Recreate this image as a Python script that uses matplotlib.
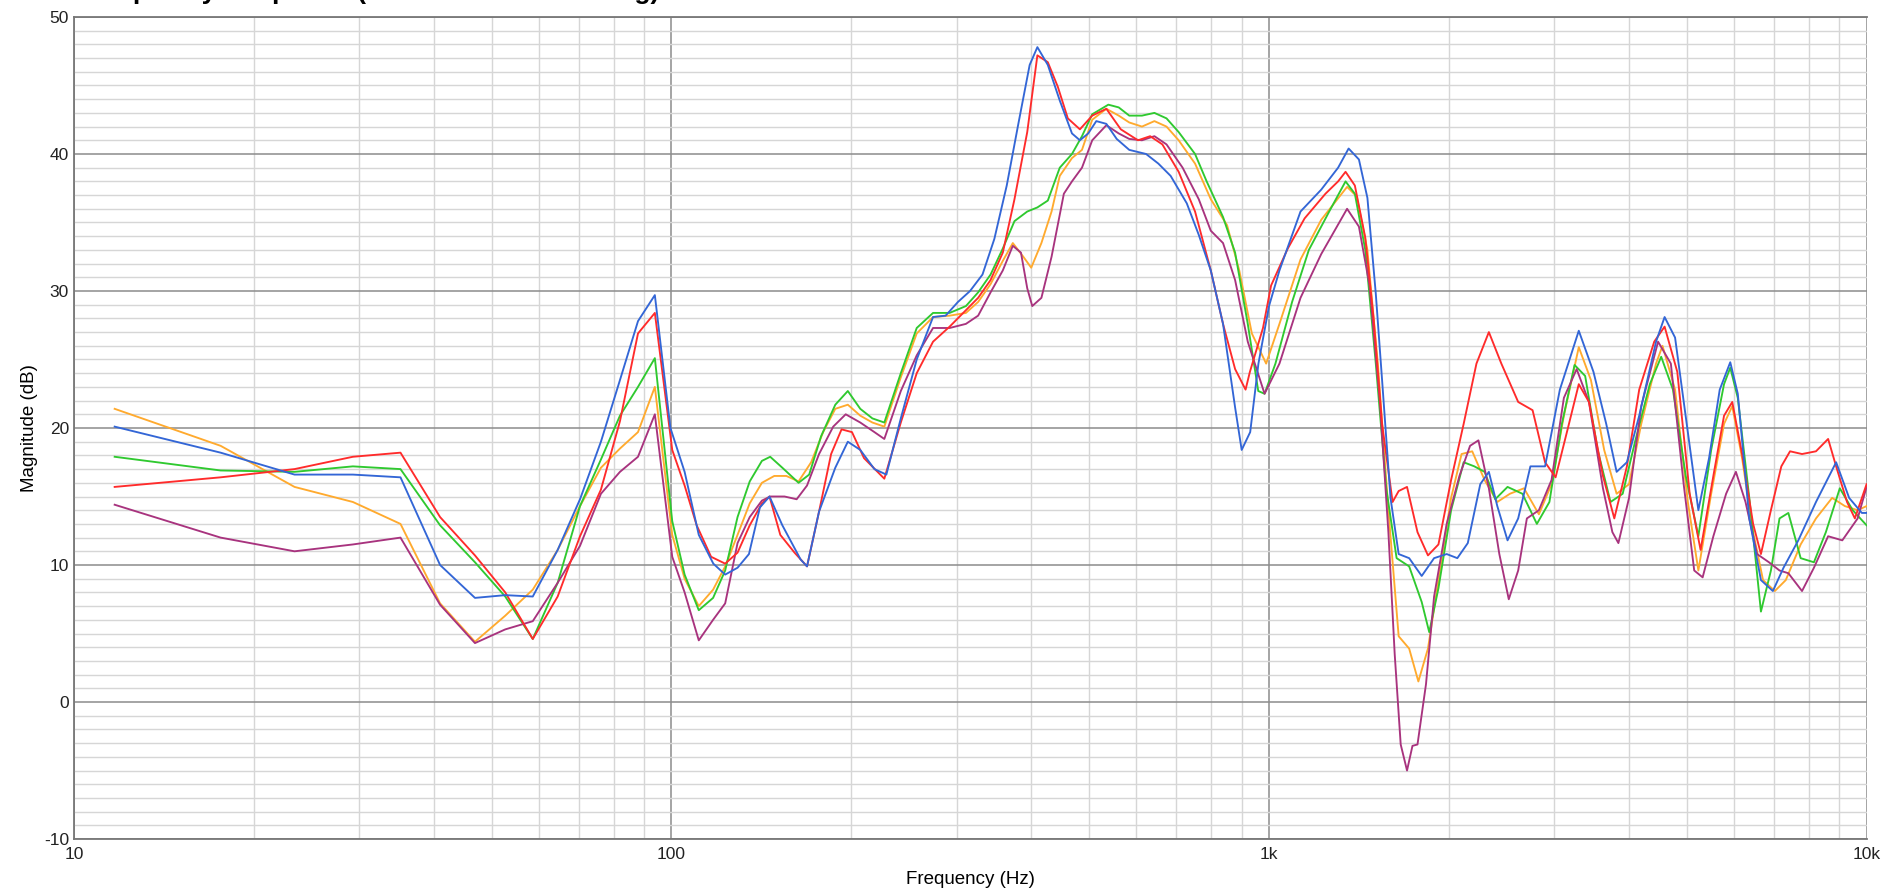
import numpy as np
import matplotlib.pyplot as plt
from matplotlib.ticker import FixedLocator, NullFormatter

plt.rcParams['font.family'] = ['Liberation Sans', 'DejaVu Sans']
plt.rcParams['axes.unicode_minus'] = False

# FFT bins below 100 Hz (48 kHz / 8192 points)
low_freq = [11.7, 17.6, 23.4, 29.3, 35.2, 41.0, 46.9, 52.7, 58.6, 64.5, 70.3, 76.2, 82.0, 87.9, 93.8]

blue_freq = low_freq + [
    99.6, 105.2, 111.1, 117.5, 123.0, 129.0, 134.8, 140.6, 145.9, 153.3, 164.5, 168.6, 176.6, 188.0,
    197.3, 207.0, 218.6, 228.9, 242.0, 257.3, 274.0, 287.6, 301.6, 316.0, 331.5, 347.0, 364.0, 381.0,
    397.6, 409.6, 426.4, 446.5, 468.0, 482.5, 498.2, 514.0, 534.3, 556.0, 583.6, 622.7, 652.8, 684.5,
    728.4, 762.8, 799.0, 837.6, 877.5, 900.0, 930.0, 960.0, 1000, 1041, 1129, 1223, 1305, 1359, 1414,
    1461, 1509, 1546, 1597, 1648, 1716, 1801, 1889, 1983, 2066, 2151, 2257, 2333, 2410, 2507, 2612,
    2738, 2897, 3067, 3299, 3491, 3667, 3817, 3971, 4164, 4443, 4592, 4781, 5022, 5230, 5450, 5679,
    5914, 6088, 6364, 6656, 6969, 7261, 7687, 8229, 8893, 9350, 9818, 10000]
blue_db = [
    20.1, 18.2, 16.6, 16.6, 16.4, 10.0, 7.6, 7.8, 7.7, 11.1, 14.8, 19.0, 23.5, 27.8, 29.7,
    20.0, 16.8, 12.2, 10.1, 9.3, 9.8, 10.8, 14.2, 15.0, 12.9, 10.4, 9.9, 13.9, 17.1,
    19.0, 18.4, 17.0, 16.6, 20.7, 25.0, 28.1, 28.2, 29.2, 30.0, 31.2, 33.8, 37.7, 42.3,
    46.5, 47.8, 46.5, 43.9, 41.5, 41.0, 41.5, 42.4, 42.2, 41.1, 40.3, 40.0, 39.3, 38.4,
    36.4, 34.1, 31.5, 27.6, 21.5, 18.4, 19.7, 24.7, 28.9, 31.5, 35.8, 37.4, 39.0, 40.4, 39.6,
    36.8, 29.8, 23.5, 14.9, 10.8, 10.5, 9.2, 10.5, 10.8, 10.5, 11.6, 15.9, 16.8, 14.3, 11.8, 13.4,
    17.2, 17.2, 22.8, 27.1, 24.1, 20.3, 16.8, 17.5, 20.9, 26.3, 28.1, 26.6, 19.7, 14.0, 17.8, 22.8,
    24.8, 22.5, 13.4, 8.9, 8.1, 9.8, 11.8, 14.6, 17.5, 14.9, 13.8, 13.8]

red_freq = low_freq + [
    100.3, 105.2, 110.2, 116.5, 123.0, 129.0, 135.2, 141.7, 145.9, 152.1, 160.7, 168.6, 176.6, 185.0,
    192.6, 200.5, 210.0, 227.1, 242.0, 257.3, 274.0, 292.1, 311.0, 326.0, 342.0, 358.5, 375.0, 393.9,
    409.6, 426.4, 443.2, 460.6, 482.5, 506.0, 534.3, 564.9, 603.6, 632.6, 663.0, 706.0, 752.0, 799.0,
    837.6, 877.5, 913.6, 929, 977, 1008, 1075, 1147, 1243, 1305, 1343, 1392, 1449, 1497, 1546, 1610,
    1648, 1702, 1772, 1845, 1921, 2017, 2117, 2224, 2333, 2448, 2612, 2761, 2897, 3017, 3164, 3299,
    3431, 3621, 3783, 3971, 4164, 4412, 4592, 4822, 5058, 5275, 5541, 5774, 5960, 6190, 6459, 6656,
    6917, 7200, 7446, 7798, 8229, 8623, 8893, 9275, 9559, 10000]
red_db = [
    15.7, 16.4, 17.0, 17.9, 18.2, 13.5, 10.7, 8.0, 4.6, 7.7, 12.1, 15.5, 20.5, 26.9, 28.4,
    18.4, 15.8, 12.9, 10.6, 10.1, 10.9, 12.9, 14.5, 15.0, 12.2, 10.9, 9.9, 13.9, 18.1,
    19.9, 19.7, 17.8, 16.3, 20.4, 24.0, 26.3, 27.4, 28.6, 29.5, 30.8, 32.8, 36.7, 41.6,
    47.2, 46.7, 44.9, 42.6, 41.8, 42.8, 43.3, 41.8, 41.0, 41.3, 40.7, 38.7, 35.8, 31.5,
    27.6, 24.3, 22.8, 24.1, 27.3, 30.4, 33.1, 35.3, 37.1, 38.0, 38.7, 37.7, 33.9, 27.9, 20.3, 14.6,
    15.4, 15.7, 12.4, 10.7, 11.5, 16.2, 20.3, 24.7, 27.0, 24.7, 21.9, 21.3, 17.5, 16.4, 20.0, 23.2,
    21.9, 16.5, 13.4, 17.2, 22.8, 26.3, 27.4, 24.1, 15.2, 11.1, 16.5, 20.9, 21.9, 18.1, 13.0, 10.8,
    14.0, 17.2, 18.3, 18.1, 18.3, 19.2, 17.2, 14.6, 13.4, 15.9]

green_freq = low_freq + [
    100.3, 105.2, 111.1, 117.4, 123.0, 129.0, 135.2, 141.7, 146.3, 153.3, 163.2, 170.0, 178.0, 188.0,
    197.3, 207.0, 216.9, 227.1, 242.0, 257.3, 274.0, 292.1, 311.0, 326.0, 342.0, 358.5, 375.0, 393.9,
    409.6, 426.4, 446.5, 468.0, 486.4, 506.0, 538.4, 560.4, 583.6, 612.9, 643.0, 673.7, 706.0, 752.0,
    786.4, 837.6, 877.5, 921.4, 959.4, 983, 1025, 1093, 1166, 1261, 1343, 1392, 1449, 1509, 1571,
    1635, 1716, 1801, 1854, 1921, 2017, 2117, 2206, 2295, 2391, 2507, 2655, 2807, 2946, 3091, 3246,
    3381, 3548, 3728, 3907, 4098, 4338, 4532, 4742, 4982, 5230, 5495, 5774, 5914, 6088, 6364, 6656,
    6917, 7150, 7398, 7757, 8164, 8548, 9020, 9480, 10000]
green_db = [
    17.9, 16.9, 16.8, 17.2, 17.0, 12.9, 10.2, 7.7, 4.6, 8.7, 14.3, 17.7, 20.9, 23.0, 25.1,
    13.2, 9.3, 6.7, 7.6, 9.6, 13.5, 16.1, 17.6, 17.9, 17.1, 16.0, 16.6, 19.4, 21.7,
    22.7, 21.4, 20.7, 20.4, 24.0, 27.3, 28.4, 28.4, 28.9, 29.9, 31.2, 33.1, 35.1, 35.8,
    36.1, 36.6, 39.0, 40.0, 41.3, 42.9, 43.6, 43.4, 42.8, 42.8, 43.0, 42.6, 41.6, 40.0,
    38.0, 35.4, 32.8, 27.6, 22.7, 22.5, 24.7, 29.2, 33.0, 35.8, 38.0, 37.1, 33.0, 24.7, 15.6,
    10.5, 9.9, 7.3, 5.1, 8.3, 14.0, 17.5, 17.2, 16.8, 14.8, 15.7, 15.2, 13.0, 14.6, 20.3, 24.6,
    23.8, 18.4, 14.6, 15.2, 19.0, 23.2, 25.2, 22.8, 16.5, 12.1, 18.4, 23.2, 24.4, 22.2, 14.9, 6.6,
    9.6, 13.4, 13.8, 10.5, 10.2, 12.4, 15.6, 14.0, 12.9]

orange_freq = low_freq + [
    100.3, 105.2, 111.1, 117.4, 123.0, 129.0, 135.2, 141.7, 148.6, 155.7, 163.2, 171.3, 179.4, 188.0,
    197.3, 207.0, 216.9, 227.1, 242.0, 257.3, 274.0, 292.1, 311.0, 326.0, 342.0, 358.5, 372.6, 388.0,
    400.0, 416.0, 432.6, 446.5, 468.0, 486.4, 506.0, 534.3, 560.4, 583.6, 612.9, 643.0, 673.7, 706.0,
    752.0, 799.0, 850.8, 891.7, 936, 989, 1041, 1129, 1223, 1351, 1402, 1461, 1521, 1584, 1648,
    1716, 1778, 1845, 1921, 2017, 2100, 2188, 2295, 2410, 2530, 2671, 2829, 2970, 3115, 3299, 3457,
    3638, 3817, 4004, 4197, 4443, 4555, 4781, 5022, 5230, 5495, 5774, 5960, 6190, 6459, 6710, 7022,
    7325, 7757, 8229, 8757, 9198, 9662, 10000]
orange_db = [
    21.4, 18.7, 15.7, 14.6, 13.0, 7.2, 4.4, 6.3, 8.2, 11.1, 14.3, 17.1, 18.5, 19.7, 23.0,
    12.2, 9.0, 7.0, 8.2, 9.9, 12.2, 14.5, 16.0, 16.5, 16.5, 16.1, 17.5, 19.7, 21.4,
    21.7, 20.9, 20.4, 20.1, 23.7, 26.9, 28.1, 28.2, 28.4, 29.2, 30.5, 32.2, 33.5, 32.5,
    31.7, 33.5, 35.8, 38.4, 39.7, 40.3, 42.5, 43.3, 42.8, 42.3, 42.0, 42.4, 42.0, 41.0,
    39.3, 36.7, 34.8, 31.5, 26.9, 24.7, 27.6, 32.3, 35.2, 37.6, 36.9, 33.0, 24.7, 14.0, 4.8,
    3.9, 1.5, 3.9, 8.9, 14.9, 18.1, 18.3, 16.2, 14.6, 15.2, 15.6, 13.7, 15.9, 20.9, 25.9, 23.5,
    18.4, 15.2, 15.9, 20.3, 24.7, 26.0, 22.8, 14.6, 9.6, 15.2, 20.3, 21.6, 17.8, 12.4, 8.9, 8.1,
    8.9, 11.5, 13.4, 14.9, 14.3, 14.0, 14.3]

purple_freq = low_freq + [
    100.3, 105.2, 111.1, 117.4, 123.0, 129.0, 135.2, 141.7, 146.3, 154.6, 162.0, 168.6, 176.6, 186.5,
    195.7, 207.0, 218.6, 227.1, 242.0, 257.3, 274.0, 292.1, 311.0, 326.0, 342.0, 358.5, 372.6, 384.5,
    393.9, 401.6, 416.0, 432.6, 453.6, 468.0, 486.4, 506.0, 534.3, 560.4, 583.6, 612.9, 643.0, 673.7,
    716.8, 762.8, 799.0, 837.6, 877.5, 921.4, 983, 1041, 1129, 1223, 1351, 1414, 1473, 1533, 1584,
    1623, 1661, 1702, 1738, 1772, 1831, 1889, 1983, 2083, 2170, 2241, 2333, 2429, 2519, 2612, 2701,
    2829, 2970, 3115, 3272, 3431, 3621, 3755, 3843, 4004, 4197, 4478, 4704, 4942, 5147, 5317, 5541,
    5820, 6044, 6272, 6558, 6865, 7150, 7398, 7798, 8164, 8623, 9107, 9662, 10000]
purple_db = [
    14.4, 12.0, 11.0, 11.5, 12.0, 7.1, 4.3, 5.3, 5.9, 8.7, 11.4, 15.2, 16.8, 17.9, 21.0,
    10.6, 8.0, 4.5, 6.0, 7.2, 11.6, 13.5, 14.7, 15.0, 15.0, 14.8, 15.8, 18.1, 20.1,
    21.0, 20.4, 19.7, 19.2, 22.7, 25.3, 27.3, 27.3, 27.6, 28.2, 29.9, 31.5, 33.3, 32.8,
    30.2, 28.9, 29.5, 32.5, 37.1, 38.0, 39.0, 41.0, 42.1, 41.5, 41.1, 41.0, 41.3, 40.7,
    39.0, 36.7, 34.4, 33.5, 30.8, 26.3, 22.5, 24.7, 29.5, 32.7, 36.0, 34.7, 30.4, 21.9, 12.4,
    3.5, -3.1, -5.0, -3.2, -3.1, 1.3, 7.7, 13.0, 16.5, 18.7, 19.1, 15.6, 10.8, 7.5, 9.6, 13.4,
    14.0, 16.2, 22.2, 24.3, 21.9, 15.6, 12.4, 11.6, 14.9, 21.6, 26.3, 24.7, 15.9, 9.6, 9.1, 12.1,
    15.2, 16.8, 14.6, 10.8, 10.2, 9.6, 9.4, 8.1, 9.8, 12.1, 11.8, 13.4, 15.7]

series = [
    (orange_freq, orange_db, '#ffaa2e'),
    (green_freq, green_db, '#2fc92f'),
    (purple_freq, purple_db, '#a8337e'),
    (red_freq, red_db, '#ff2b2b'),
    (blue_freq, blue_db, '#3366d6'),
]

fig = plt.figure(figsize=(18.95, 8.94), dpi=100)
ax = fig.add_axes([0.039, 0.0615, 0.946, 0.9195])

for f, db, col in series:
    ax.plot(f, db, color=col, lw=1.35)

ax.set_xscale('log')
ax.set_xlim(10, 10000)
ax.set_ylim(-10, 50)

# grid: majors dark, minors light
ax.set_yticks(np.arange(-10, 51, 10))
ax.yaxis.set_minor_locator(FixedLocator(np.arange(-10, 50, 1)))
ax.set_xticks([10, 100, 1000, 10000])
ax.set_xticklabels(['10', '100', '1k', '10k'])
minors = [m * 10 ** d for d in range(1, 4) for m in range(2, 10)]
ax.xaxis.set_minor_locator(FixedLocator(minors))
ax.xaxis.set_minor_formatter(NullFormatter())
ax.grid(True, which='major', color='#8c8c8c', lw=1.1)
ax.grid(True, which='minor', color='#d6d6d6', lw=1.0)
ax.set_axisbelow(True)
ax.tick_params(which='both', length=0, labelsize=12.5, colors='#222222')
ax.tick_params(axis='x', pad=6)

for side in ['top', 'bottom', 'left']:
    ax.spines[side].set_color('#777777')
    ax.spines[side].set_linewidth(1.3)
ax.spines['right'].set_visible(False)

ax.set_xlabel('Frequency (Hz)', fontsize=13.5, labelpad=6)
ax.set_ylabel('Magnitude (dB)', fontsize=13.5, labelpad=4)

# chart title, almost entirely above the top edge in the original
fig.text(0.044, 1.0008, 'Frequency Response (1/12 octave smoothing)', fontsize=19,
         fontweight='bold', ha='left', va='baseline')

fig.savefig('out.png', dpi=100)
